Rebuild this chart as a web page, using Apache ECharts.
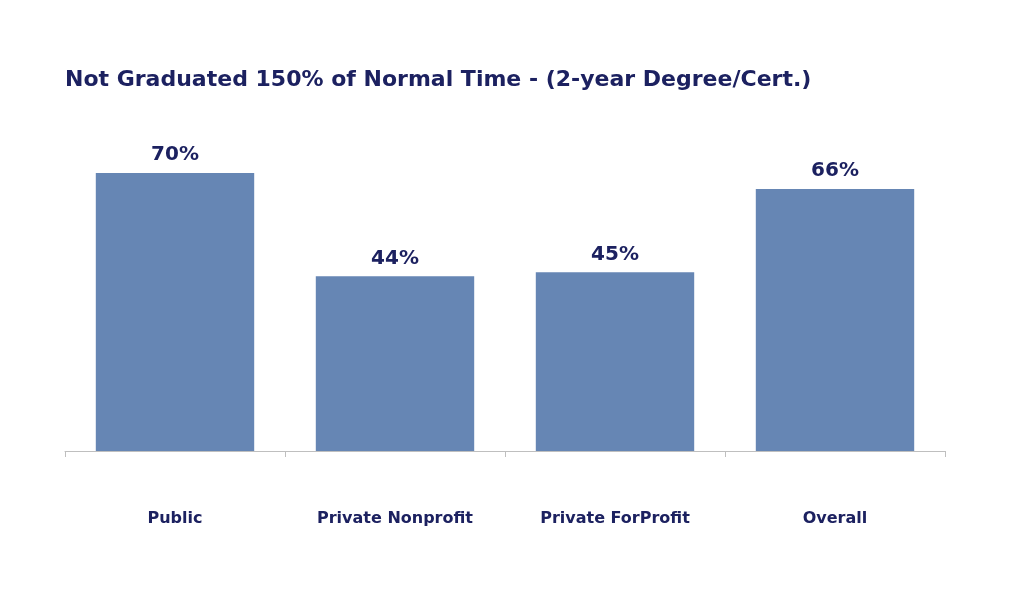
<!DOCTYPE html>
<html><head><meta charset="utf-8">
<script src="https://cdn.jsdelivr.net/npm/echarts@6/dist/echarts.min.js"></script>
<style>html,body{margin:0;background:#fff}#c{width:1024px;height:611px}</style>
</head><body><div id="c"></div>
<script>
const categories = ["Public", "Private Nonprofit", "Private ForProfit", "Overall"];
const values = [70, 44, 45, 66];
const navy = "#1c2160";
const font = 'DejaVu Sans';
const chart = echarts.init(document.getElementById('c'));
chart.setOption({
  animation: false,
  title: { text: "Not Graduated 150% of Normal Time - (2-year Degree/Cert.)", left: 60, top: 64,
    textStyle: { color: navy, fontSize: 22, fontWeight: 'bold', fontFamily: font } },
  grid: { left: 65, right: 79, top: 54, bottom: 160 },
  xAxis: { type: 'category', data: categories,
    axisLine: { lineStyle: { color: '#bfbfbf' } },
    axisTick: { show: true, inside: false, length: 6, lineStyle: { color: '#bfbfbf' } },
    axisLabel: { margin: 60, color: navy, fontSize: 16, fontWeight: 'bold', fontFamily: font } },
  yAxis: { type: 'value', min: 0, max: 100, show: false, splitLine: { show: false } },
  series: [{ type: 'bar', data: values, barCategoryGap: '28%',
    itemStyle: { color: '#6686b4' },
    label: { show: true, position: 'top', distance: 8, formatter: '{c}%', color: navy,
      fontSize: 20, fontWeight: 'bold', fontFamily: font } }]
});
</script></body></html>
